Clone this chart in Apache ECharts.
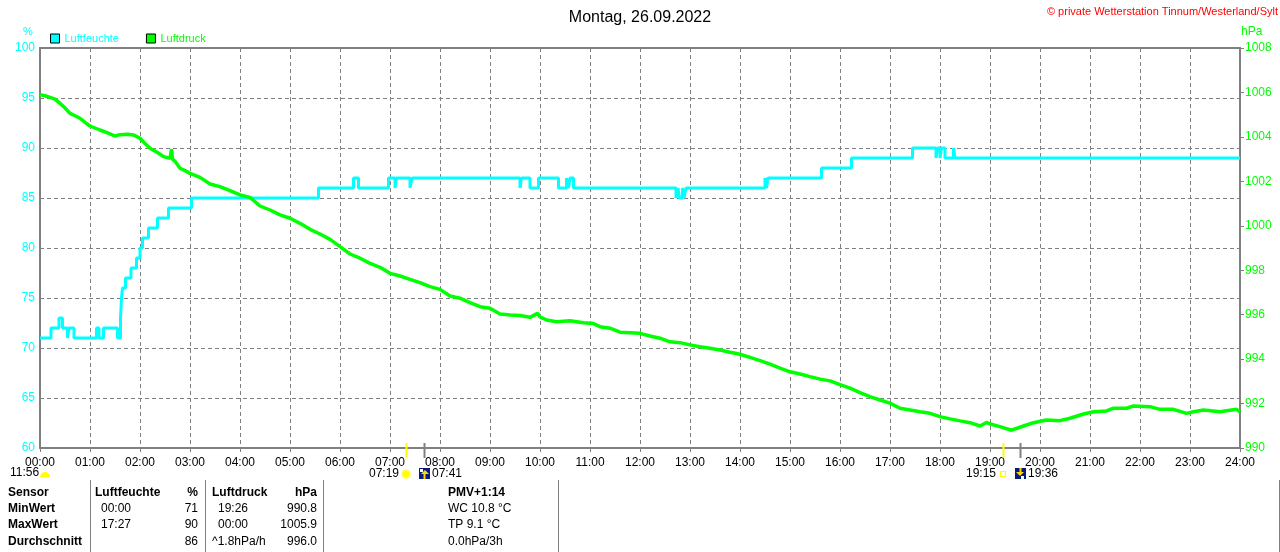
<!DOCTYPE html>
<html><head><meta charset="utf-8">
<script src="https://cdn.jsdelivr.net/npm/echarts@6.0.0/dist/echarts.min.js"></script>
<style>html,body{margin:0;padding:0;background:#fff}#c{width:1280px;height:552px}</style>
</head><body><div id="c"></div>
<script>
// ---------- data ----------
const hourLabels = ['00:00','01:00','02:00','03:00','04:00','05:00','06:00','07:00','08:00','09:00','10:00','11:00','12:00',
  '13:00','14:00','15:00','16:00','17:00','18:00','19:00','20:00','21:00','22:00','23:00','24:00'];
const humTicks = [60,65,70,75,80,85,90,95,100];
const presTicks = [990,992,994,996,998,1000,1002,1004,1006,1008];

// Luftfeuchte (%) - sample & hold readings: time in hours
const humTimes = [0,0.22,0.38,0.45,0.55,0.58,0.68,1.13,1.18,1.27,1.55,1.61,1.63,1.65,1.71,1.82,1.93,2.0,2.05,2.17,2.35,2.57,3.03,
  5.57,6.27,6.37,6.97,7.1,7.13,7.4,7.44,9.6,9.63,9.8,9.97,10.37,10.53,10.57,10.6,10.67,
  12.72,12.76,12.79,12.85,12.88,12.92,14.5,14.53,14.56,15.63,16.23,17.45,17.92,17.95,18.0,18.03,18.1,18.27,18.3,24];
const humValues = [71,72,73,72,71,72,71,72,71,72,71,73,75,76,77,78,79,80,81,82,83,84,85,
  86,87,86,87,86,87,86,87,86,87,86,87,86,87,86,87,86,
  85,86,85,86,85,86,87,86,87,88,89,90,89,90,89,90,89,90,89,89];

// Luftdruck (hPa)
const presTimes = [0,0.1,0.2,0.3,0.4,0.5,0.6,0.7,0.8,0.9,1.0,1.1,1.2,1.35,1.5,1.6,1.63,1.75,1.87,2.0,2.1,2.2,2.35,2.47,2.6,2.63,2.65,2.7,2.8,2.9,
  3.0,3.2,3.4,3.6,3.8,4.0,4.2,4.4,4.6,4.8,5.0,5.2,5.4,5.6,5.8,6.0,6.2,6.4,6.6,6.8,7.0,7.2,7.4,7.6,7.8,8.0,8.2,8.4,8.6,8.8,
  9.0,9.2,9.4,9.6,9.8,9.95,10.0,10.13,10.33,10.6,10.87,11.07,11.2,11.4,11.6,11.8,12.0,12.2,12.4,12.6,12.8,13.0,13.2,13.4,13.6,13.8,
  14.0,14.2,14.4,14.6,14.8,15.0,15.2,15.4,15.6,15.8,16.0,16.2,16.4,16.6,16.8,17.0,17.2,17.4,17.6,17.8,18.0,18.2,18.4,18.6,18.8,18.93,
  19.0,19.2,19.43,19.67,19.87,20.13,20.4,20.6,20.87,21.07,21.33,21.47,21.73,21.87,22.2,22.4,22.67,22.93,23.07,23.27,23.6,23.93,24.0];
const presValues = [1005.9,1005.85,1005.78,1005.7,1005.51,1005.3,1005.06,1004.95,1004.84,1004.65,1004.49,1004.4,1004.31,1004.18,1004.04,1004.1,1004.16,1004.12,1004.09,1003.94,1003.7,1003.49,1003.3,1003.11,1003.04,1003.45,1003.0,1002.9,1002.59,1002.48,
  1002.36,1002.18,1001.88,1001.76,1001.58,1001.39,1001.28,1000.89,1000.71,1000.49,1000.34,1000.11,999.84,999.63,999.39,999.06,998.73,998.54,998.31,998.13,997.86,997.74,997.59,997.44,997.26,997.14,996.84,996.74,996.54,996.36,
  996.29,996.03,995.99,995.96,995.88,996.06,995.9,995.76,995.68,995.73,995.64,995.6,995.46,995.39,995.21,995.19,995.16,995.04,994.94,994.78,994.74,994.64,994.56,994.49,994.41,994.31,
  994.22,994.08,993.93,993.77,993.59,993.43,993.33,993.21,993.1,993.02,992.85,992.69,992.49,992.31,992.16,992.02,991.79,991.71,991.63,991.56,991.41,991.31,991.22,991.14,990.99,991.15,
  991.08,990.96,990.8,990.99,991.14,991.26,991.23,991.34,991.53,991.63,991.67,991.79,991.79,991.89,991.86,991.74,991.74,991.56,991.63,991.71,991.63,991.74,991.63];

// sun / twilight events
const sunEventTimes = ['07:19','07:41','19:15','19:36'];
const sunEventTypes = ['sunUp','navyUp','sunDown','navyDown'];
const dayLength = '11:56';

// table
const tableHeader = ['Sensor','Luftfeuchte','%','Luftdruck','hPa','PMV+1:14'];
const rowLabels = ['MinWert','MaxWert','Durchschnitt'];
const humStatTimes = ['00:00','17:27',''];
const humStatValues = ['71','90','86'];
const presStatTimes = ['19:26','00:00','^1.8hPa/h'];
const presStatValues = ['990.8','1005.9','996.0'];
const extraValues = ['WC 10.8 °C','TP 9.1 °C','0.0hPa/3h'];

// ---------- chart ----------
const FONT = 'Liberation Sans, Arial, sans-serif';
const CYAN = '#00FFFF', GREEN = '#00FF00', GRAY = '#808080';
const toHours = s => { const [h,m] = s.split(':').map(Number); return h + m/60; };

const humData = humTimes.map((t,i)=>[t, humValues[i]]);
const presData = presTimes.map((t,i)=>[t, presValues[i]]);
const sunData = sunEventTimes.map((s,i)=>[toHours(s), i]);

function renderSun(params, api){
  const t = api.value(0), k = api.value(1);
  const p = api.coord([t, humTicks[0]]);
  const x = Math.round(p[0]), y = Math.round(p[1]);
  const kind = sunEventTypes[k];
  const isSun = kind.indexOf('sun') === 0;
  const label = sunEventTimes[k];
  const font = '12px ' + FONT;
  const ch = [{type:'line', shape:{x1:x+0.5, y1:y-5, x2:x+0.5, y2:y+10}, style:{stroke: isSun ? '#FFFF00' : GRAY, lineWidth:2}}];
  const cy = y + 26;
  if (kind === 'sunUp') {
    ch.push({type:'circle', shape:{cx:x, cy:cy, r:5}, style:{fill:'#FFFF80'}});
    ch.push({type:'circle', shape:{cx:x, cy:cy, r:3.5}, style:{fill:'#FFFF00'}});
    ch.push({type:'text', style:{text:label, x:x-7, y:cy, align:'right', verticalAlign:'middle', fill:'#000', font:font}});
  } else if (kind === 'sunDown') {
    ch.push({type:'rect', shape:{x:x-2.5, y:cy-2.5, width:5, height:5}, style:{fill:'none', stroke:'#FFFF00', lineWidth:1.2}});
    ch.push({type:'text', style:{text:label, x:x-7, y:cy, align:'right', verticalAlign:'middle', fill:'#000', font:font}});
  } else {
    const up = kind === 'navyUp';
    ch.push({type:'rect', shape:{x:x-5, y:cy-6, width:11, height:11}, style:{fill:'#0A1A7A'}});
    ch.push({type:'polygon', shape:{points: up ? [[x-3,cy],[x+1,cy-4],[x+5,cy]] : [[x-4,cy-2],[x,cy+2],[x+4,cy-2]]}, style:{fill:'#FFD800'}});
    ch.push({type:'rect', shape:{x:x-0.5, y: up ? cy : cy-6, width:2, height:5}, style:{fill:'#FFD800'}});
    ch.push({type:'rect', shape:{x: up ? x-4 : x+1, y: up ? cy-5 : cy+2, width:3, height:3}, style:{fill:'#FFFFFF'}});
    ch.push({type:'text', style:{text:label, x:x+8, y:cy, align:'left', verticalAlign:'middle', fill:'#000', font:font}});
  }
  return {type:'group', children: ch};
}

// graphic: texts & table
const g = [];
g.push({type:'text', right:2, top:6, style:{text:'© private Wetterstation Tinnum/Westerland/Sylt', fill:'#FF0000', font:'11px ' + FONT}});
g.push({type:'text', left:23, top:26, style:{text:'%', fill:CYAN, font:'11px ' + FONT}});
g.push({type:'text', left:1241, top:26, style:{text:'hPa', fill:GREEN, font:'12px ' + FONT}});
g.push({type:'text', left:10, top:467, style:{text:dayLength, fill:'#000', font:'12px ' + FONT}});
g.push({type:'sector', shape:{cx:45, cy:477, r0:0, r:5, startAngle:Math.PI, endAngle:2*Math.PI}, style:{fill:'#FFFF00'}});

[90,205,323,558,1279].forEach(x => g.push({type:'line', shape:{x1:x+0.5, y1:480, x2:x+0.5, y2:552}, style:{stroke:GRAY, lineWidth:1}}));
const rowY = [493, 509, 525, 542];
const bold = '700 12px ' + FONT, norm = '12px ' + FONT;
function txt(s, x, y, align, font){ g.push({type:'text', style:{text:s, x:x, y:y, align:align, verticalAlign:'middle', fill:'#000', font:font}}); }
txt(tableHeader[0], 8, rowY[0], 'left', bold);
txt(tableHeader[1], 95, rowY[0], 'left', bold);
txt(tableHeader[2], 198, rowY[0], 'right', bold);
txt(tableHeader[3], 212, rowY[0], 'left', bold);
txt(tableHeader[4], 317, rowY[0], 'right', bold);
txt(tableHeader[5], 448, rowY[0], 'left', bold);
rowLabels.forEach((r,i) => {
  const y = rowY[i+1];
  txt(r, 8, y, 'left', bold);
  txt(humStatTimes[i], 101, y, 'left', norm);
  txt(humStatValues[i], 198, y, 'right', norm);
  txt(presStatTimes[i], presStatTimes[i].indexOf('^') === 0 ? 212 : 218, y, 'left', norm);
  txt(presStatValues[i], 317, y, 'right', norm);
  txt(extraValues[i], 448, y, 'left', norm);
});

const chart = echarts.init(document.getElementById('c'), null, {renderer:'canvas'});
chart.setOption({
  animation: false,
  backgroundColor: '#fff',
  textStyle: {fontFamily: FONT},
  title: {text:'Montag, 26.09.2022', left:'center', top:5, textStyle:{fontSize:16, fontWeight:'normal', color:'#000', fontFamily:FONT}},
  legend: {
    left: 50, top: 33, padding: 0, itemWidth: 9, itemHeight: 9, itemGap: 27, icon: 'rect', selectedMode: false,
    itemStyle: {borderColor:'#000', borderWidth:1},
    textStyle: {fontSize: 11, fontFamily: FONT},
    data: [{name:'Luftfeuchte', textStyle:{color:CYAN}}, {name:'Luftdruck', textStyle:{color:GREEN}}]
  },
  grid: {left:40, right:40, top:48, height:400, show:true, borderColor:GRAY, borderWidth:2, containLabel:false},
  xAxis: {
    type:'value', min:0, max:24, interval:1,
    axisLine:{show:true, onZero:false, lineStyle:{color:GRAY, width:2}},
    axisTick:{show:true, length:4, lineStyle:{color:GRAY}},
    axisLabel:{color:'#000', fontSize:12, margin:9, fontFamily:FONT, formatter: v => hourLabels[v]},
    splitLine:{show:true, lineStyle:{color:GRAY, type:[4,3], width:1}}
  },
  yAxis: [
    {type:'value', position:'left', min:humTicks[0], max:humTicks[humTicks.length-1], interval:humTicks[1]-humTicks[0],
     axisLine:{show:true, lineStyle:{color:GRAY, width:2}},
     axisTick:{show:false},
     axisLabel:{color:CYAN, fontSize:12, margin:5, fontFamily:FONT, formatter: v => String(v)},
     splitLine:{show:true, lineStyle:{color:GRAY, type:[4,3], width:1}}},
    {type:'value', position:'right', min:presTicks[0], max:presTicks[presTicks.length-1], interval:presTicks[1]-presTicks[0],
     alignTicks:false,
     axisLine:{show:true, lineStyle:{color:GRAY, width:2}},
     axisTick:{show:true, length:4, lineStyle:{color:GRAY}},
     axisLabel:{color:GREEN, fontSize:12, margin:5, fontFamily:FONT, formatter: v => String(v)},
     splitLine:{show:false}}
  ],
  series: [
    {name:'Luftfeuchte', type:'line', step:'end', yAxisIndex:0, data:humData, showSymbol:false, symbol:'none',
     lineStyle:{color:CYAN, width:3}, itemStyle:{color:CYAN}, z:3},
    {name:'Luftdruck', type:'line', yAxisIndex:1, data:presData, showSymbol:false, symbol:'none',
     lineStyle:{color:GREEN, width:3.5}, itemStyle:{color:GREEN}, z:4},
    {name:'sun', type:'custom', data:sunData, renderItem:renderSun, clip:false, silent:true, z:5, encode:{x:0, y:1}}
  ],
  graphic: g
});
</script>
</body></html>
